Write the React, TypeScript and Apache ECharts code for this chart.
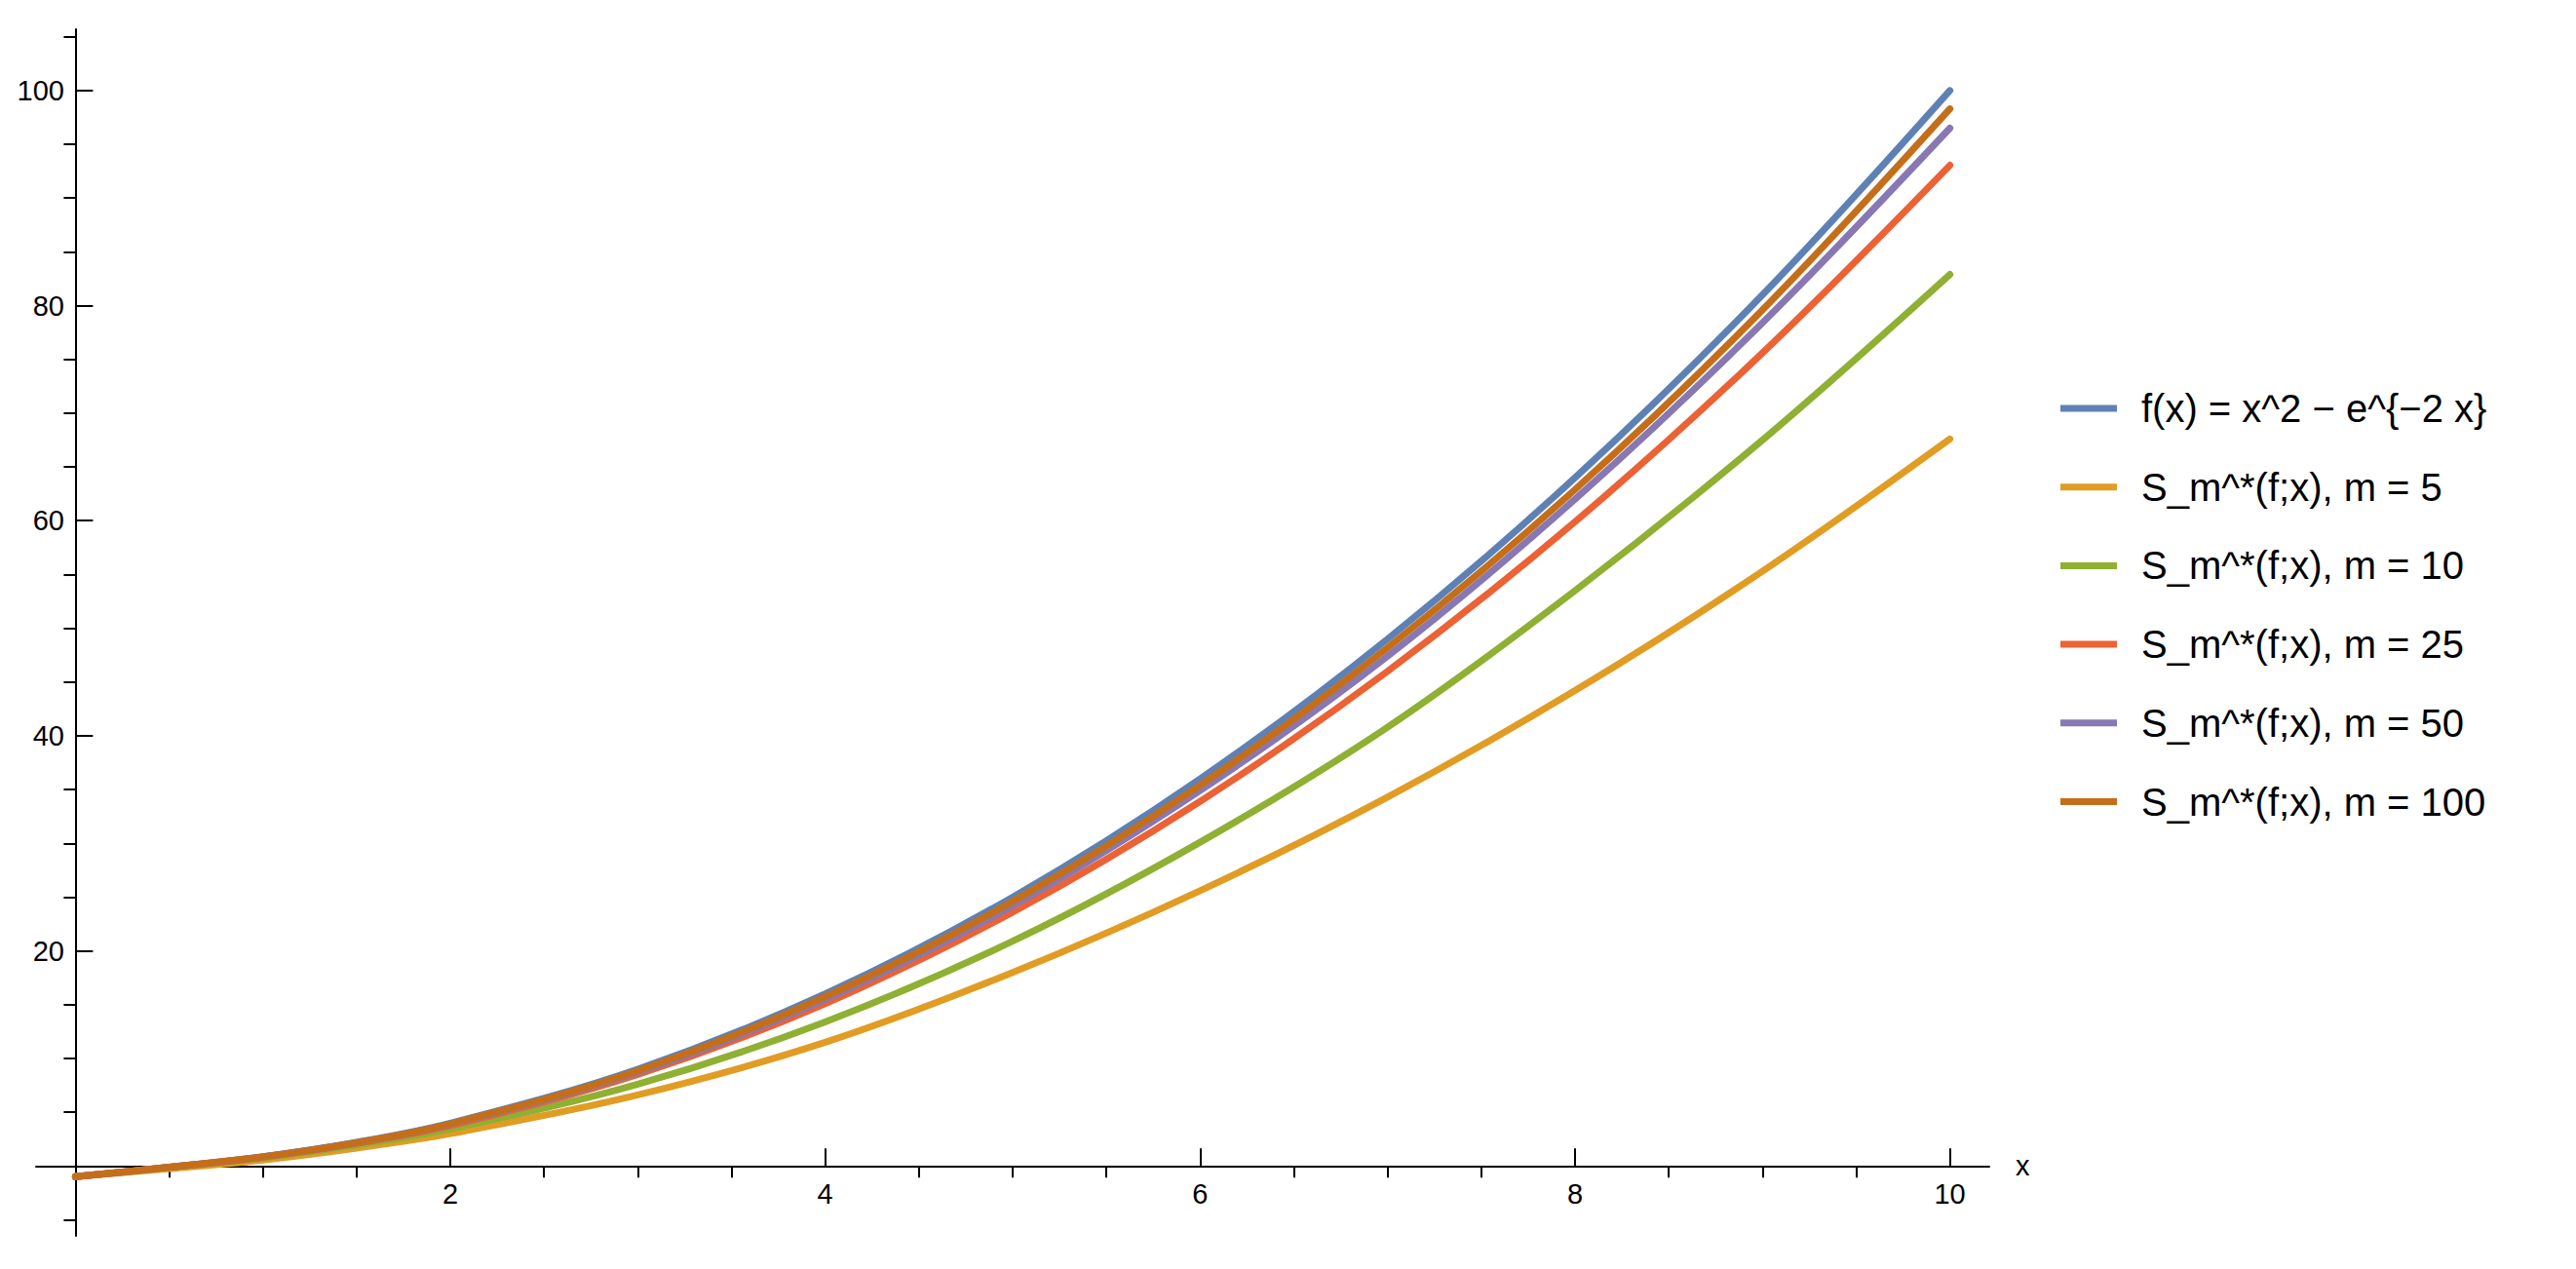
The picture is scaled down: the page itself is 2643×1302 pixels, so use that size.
import React, { useEffect, useRef } from "react";
import * as echarts from "echarts";

const xs = [0, 0.5, 1, 1.5, 2, 3, 4, 5, 6, 7, 8, 9, 10];
const fValues = [-1, -0.12, 0.86, 2.2, 3.98, 9.0, 16.0, 25.0, 36.0, 49.0, 64.0, 81.0, 100.0];
const m5Values = [-1, -0.25, 0.55, 1.65, 3.0, 6.6, 11.5, 18.0, 25.6, 34.3, 44.2, 55.3, 67.6];
const m10Values = [-1, -0.15, 0.75, 1.95, 3.45, 7.6, 13.4, 20.9, 30.1, 40.8, 53.5, 67.5, 82.9];
const m25Values = [-1, -0.13, 0.82, 2.1, 3.75, 8.5, 15.1, 23.6, 33.9, 46.0, 59.9, 75.6, 93.05];
const m50Values = [-1, -0.12, 0.84, 2.15, 3.87, 8.7, 15.5, 24.2, 34.9, 47.4, 62.0, 78.4, 96.5];
const m100Values = [-1, -0.12, 0.85, 2.17, 3.92, 8.85, 15.75, 24.6, 35.4, 48.2, 62.9, 79.6, 98.3];

const seriesNames = [
  "f(x) = x^2 \u2212 e^{\u22122 x}",
  "S_m^*(f;x), m = 5",
  "S_m^*(f;x), m = 10",
  "S_m^*(f;x), m = 25",
  "S_m^*(f;x), m = 50",
  "S_m^*(f;x), m = 100",
];
const seriesValues = [fValues, m5Values, m10Values, m25Values, m50Values, m100Values];
const colors = ["#5E81B5", "#E19C24", "#8FB032", "#EB6235", "#8778B3", "#C56E1A"];

const xMajorTicks = [2, 4, 6, 8, 10];
const xMinorTicks = [0.5, 1, 1.5, 2.5, 3, 3.5, 4.5, 5, 5.5, 6.5, 7, 7.5, 8.5, 9, 9.5];
const yMajorTicks = [20, 40, 60, 80, 100];
const yMinorTicks = [-5, 5, 10, 15, 25, 30, 35, 45, 50, 55, 65, 70, 75, 85, 90, 95, 105];

const X_MIN = -0.21;
const X_MAX = 10.21;
const Y_MIN = -6.5;
const Y_MAX = 105.7;

const FONT = "'Liberation Sans', Arial, sans-serif";

export default function App() {
  const ref = useRef<HTMLDivElement>(null);
  useEffect(() => {
    if (!ref.current) return;
    const chart = echarts.init(ref.current, undefined, { renderer: "svg" });
    const axisLineStyle = { color: "#000", width: 2 };
    const option: any = {
      animation: false,
      backgroundColor: "#fff",
      grid: {
        left: 37,
        right: 602,
        top: 30,
        bottom: 34,
        containLabel: false,
        outerBoundsMode: "none",
      },
      legend: {
        orient: "vertical",
        left: 2114,
        top: 399,
        padding: 0,
        itemGap: 40.7,
        itemWidth: 58,
        itemHeight: 7,
        icon: "rect",
        selectedMode: false,
        data: seriesNames,
        textStyle: {
          fontFamily: FONT,
          fontSize: 40,
          lineHeight: 40,
          color: "#000",
          padding: [0, 0, 0, 20],
        },
      },
      xAxis: [
        {
          type: "value",
          min: X_MIN,
          max: X_MAX,
          name: "x",
          nameLocation: "end",
          nameGap: 27,
          nameTextStyle: { fontFamily: FONT, fontSize: 29, color: "#000", verticalAlign: "middle", padding: [6, 0, 0, 0] },
          axisLine: { show: true, onZero: true, onZeroAxisIndex: 0, lineStyle: axisLineStyle },
          axisTick: { show: true, inside: true, length: 18, customValues: xMajorTicks, lineStyle: { color: "#000", width: 2 } },
          axisLabel: {
            show: true,
            customValues: xMajorTicks,
            margin: -58,
            fontFamily: FONT,
            fontSize: 29,
            color: "#000",
          },
          splitLine: { show: false },
        },
        {
          type: "value",
          min: X_MIN,
          max: X_MAX,
          axisLine: { show: false, onZero: true, onZeroAxisIndex: 0 },
          axisTick: { show: true, inside: true, length: 12, customValues: xMinorTicks, lineStyle: { color: "#000", width: 2 } },
          axisLabel: { show: false },
          splitLine: { show: false },
        },
      ],
      yAxis: [
        {
          type: "value",
          min: Y_MIN,
          max: Y_MAX,
          axisLine: { show: true, onZero: true, onZeroAxisIndex: 0, lineStyle: axisLineStyle },
          axisTick: { show: true, inside: true, length: 18, customValues: yMajorTicks, lineStyle: { color: "#000", width: 2 } },
          axisLabel: {
            show: true,
            customValues: yMajorTicks,
            margin: -29,
            fontFamily: FONT,
            fontSize: 29,
            color: "#000",
          },
          splitLine: { show: false },
        },
        {
          type: "value",
          min: Y_MIN,
          max: Y_MAX,
          axisLine: { show: false, onZero: true, onZeroAxisIndex: 0 },
          axisTick: { show: true, inside: true, length: 12, customValues: yMinorTicks, lineStyle: { color: "#000", width: 2 } },
          axisLabel: { show: false },
          splitLine: { show: false },
        },
      ],
      series: seriesNames.map((name, i) => ({
        name,
        type: "line",
        xAxisIndex: 0,
        yAxisIndex: 0,
        data: xs.map((x, j) => [x, seriesValues[i][j]]),
        showSymbol: false,
        symbol: "none",
        smooth: 0.35,
        color: colors[i],
        lineStyle: { color: colors[i], width: 7, cap: "round" },
        itemStyle: { color: colors[i] },
        z: 2 + i,
      })),
    };
    chart.setOption(option);
    return () => chart.dispose();
  }, []);
  return (
    <div
      ref={ref}
      style={{ position: "fixed", left: 0, top: 0, width: 2643, height: 1302, background: "#fff" }}
    />
  );
}
